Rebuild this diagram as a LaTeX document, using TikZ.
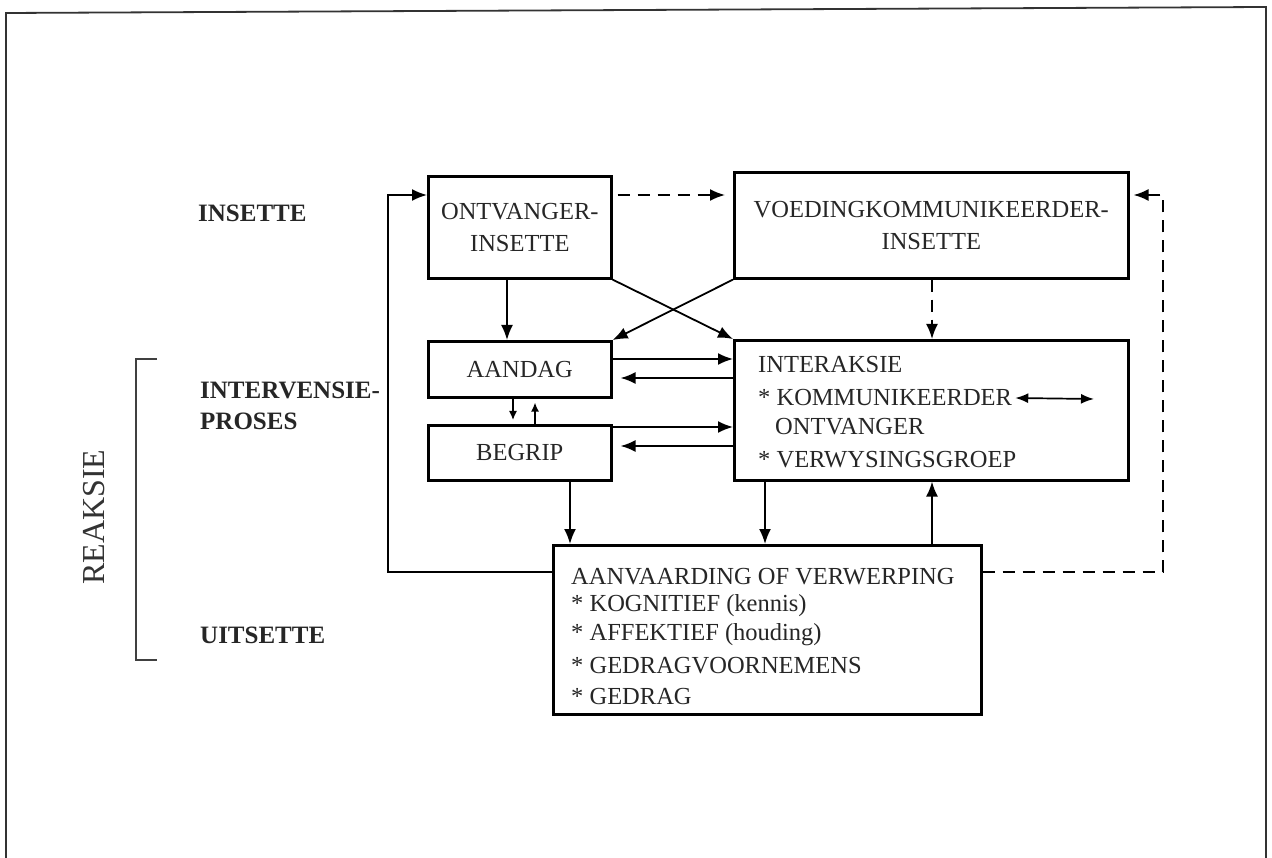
\documentclass[tikz,border=0pt]{standalone}
\usepackage{fontspec}
\setmainfont{Liberation Serif}
\usetikzlibrary{arrows.meta,calc}
\tikzset{
  box/.style={draw, line width=2.6pt, inner sep=0pt, anchor=north west, align=center,
    font=\fontsize{24.5}{32}\selectfont, text=black!85},
  con/.style={line width=1.8pt, -{Latex[length=15pt,width=12pt]}},
  smallcon/.style={line width=1.4pt, -{Latex[length=9pt,width=8pt]}},
  dsh/.style={con, dash pattern=on 12pt off 8pt},
  lbl/.style={font=\fontsize{24.5}{30}\selectfont, inner sep=0pt, anchor=west, text=black!85},
  side/.style={font=\bfseries\fontsize{25}{30}\selectfont, inner sep=0pt, anchor=west, text=black!85},
  frame/.style={line width=1.8pt, black!80}
}
\begin{document}
\begin{tikzpicture}[x=1pt,y=-1pt]
\useasboundingbox (0,0) rectangle (1272,858);
% outer frame
\draw[frame] (6,858) -- (6,13) -- (1266,7) -- (1266,858);
% boxes
\node[box, minimum width=183pt, minimum height=102pt] (ont) at (427,175) {ONTVANGER-\\INSETTE};
\node[box, minimum width=394pt, minimum height=106pt] (voe) at (733,171) {VOEDINGKOMMUNIKEERDER-\\INSETTE};
\node[box, minimum width=183pt, minimum height=56pt] (aan) at (427,340) {AANDAG};
\node[box, minimum width=183pt, minimum height=55pt] (beg) at (427,424) {BEGRIP};
\node[box, minimum width=394pt, minimum height=140pt] (int) at (733,339) {};
\node[box, minimum width=428pt, minimum height=169pt] (aanv) at (552,544) {};
% interaksie text
\node[lbl] (i1) at (758,365) {INTERAKSIE};
\node[lbl] (i2) at (758,398) {* KOMMUNIKEERDER};
\node[lbl] (i3) at (775,427) {ONTVANGER};
\node[lbl] (i4) at (758,460) {* VERWYSINGSGROEP};
\coordinate (dblend) at (1094,399);
\draw[line width=1.7pt, {Latex[length=13pt,width=10pt]}-{Latex[length=13pt,width=10pt]}] ([xshift=3pt]i2.east) -- (dblend);
% aanvaarding text
\node[lbl] (a1) at (571,577) {AANVAARDING OF VERWERPING};
\node[lbl] (a2) at (571,606) {* KOGNITIEF (kennis)};
\node[lbl] (a3) at (571,635) {* AFFEKTIEF (houding)};
\node[lbl] (a4) at (571,666) {* GEDRAGVOORNEMENS};
\node[lbl] (a5) at (571,697) {* GEDRAG};
% side labels
\node[side] (s1) at (198,213) {INSETTE};
\node[side] (s2) at (200,390) {INTERVENSIE-};
\node[side] (s3) at (200,421) {PROSES};
\node[side] (s4) at (200,635) {UITSETTE};
\node[rotate=90, font=\fontsize{32}{36}\selectfont, text=black!80, inner sep=0pt] (reak) at (94,517) {REAKSIE};
\draw[line width=2pt, black!75] (157,359) -- (136,359) -- (136,660) -- (157,660);
% connectors
\draw[con] ($(ont.south west)+(80,0)$) -- ($(aan.north west)+(80,0)$);
\draw[con] (ont.south east) -- (int.north west);
\draw[con] (voe.south west) -- (aan.north east);
\draw[dsh, shorten >=8pt, shorten <=5pt] ($(ont.north east)+(0,20)$) -- ($(voe.north west)+(0,24)$);
\draw[dsh] ($(voe.south west)+(199,0)$) -- ($(int.north west)+(199,0)$);
\draw[con] ($(aan.north east)+(0,19)$) -- ($(int.north west)+(0,20)$);
\draw[con, shorten >=8pt] ($(int.north west)+(0,39)$) -- ($(aan.north east)+(0,38)$);
\draw[con] ($(beg.north east)+(0,3)$) -- ($(int.north west)+(0,88)$);
\draw[con, shorten >=8pt] ($(int.north west)+(0,107)$) -- ($(beg.north east)+(0,22)$);
\draw[smallcon, shorten >=4pt] ($(aan.south west)+(86,0)$) -- ($(beg.north west)+(86,0)$);
\draw[smallcon, shorten >=4pt] ($(beg.north west)+(108,0)$) -- ($(aan.south west)+(108,0)$);
\draw[con] ($(beg.south west)+(143,0)$) -- ($(aanv.north west)+(18,0)$);
\draw[con] ($(int.south west)+(32,0)$) -- ($(aanv.north west)+(213,0)$);
\draw[con] ($(aanv.north west)+(380,0)$) -- ($(int.south west)+(199,0)$);
\coordinate (fbL) at (388,195);
\draw[con] ($(aanv.north west)+(0,28)$) -| (fbL) -- ($(ont.north west)+(0,20)$);
\coordinate (fbR) at (1163,195);
\draw[dsh, shorten >=4pt] ($(aanv.north east)+(0,28)$) -| (fbR) -- ($(voe.north east)+(0,24)$);
\end{tikzpicture}
\end{document}
